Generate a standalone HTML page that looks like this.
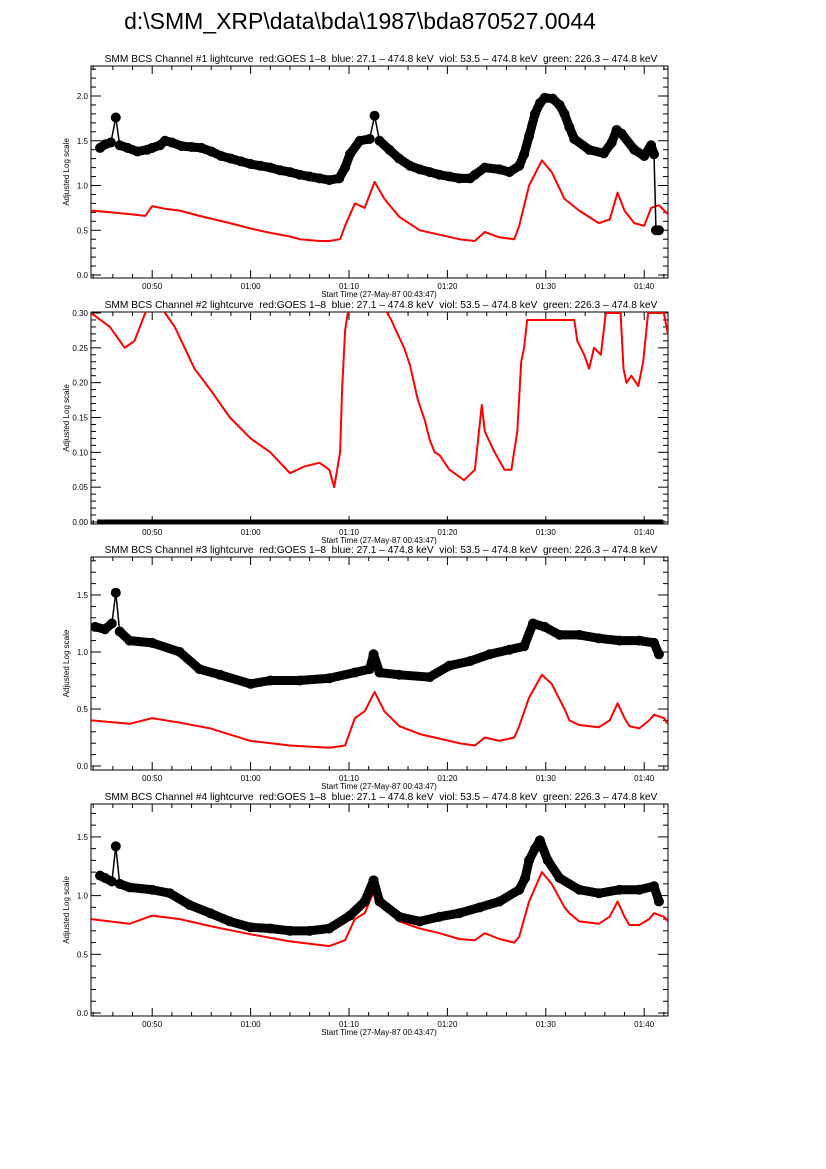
<!DOCTYPE html>
<html><head><meta charset="utf-8"><style>
html,body{margin:0;padding:0;background:#fff;}
svg{display:block;font-family:"Liberation Sans",sans-serif;}
</style></head><body>
<svg id="chart" width="826" height="1169" viewBox="0 0 826 1169" xmlns="http://www.w3.org/2000/svg">
<rect x="0" y="0" width="826" height="1169" fill="#fff"/>
<text x="360" y="29" font-size="23" text-anchor="middle" fill="#000">d:\SMM_XRP\data\bda\1987\bda870527.0044</text>
</svg>
<script>
// time in minutes after 00:00 on 27-May-87
const tStart = 43.78, tEnd = 102.42;
const xTickMinutes = [50, 60, 70, 80, 90, 100];
const xTickLabels = ["00:50", "01:00", "01:10", "01:20", "01:30", "01:40"];

// Panel 1
const p1RedT = [43.8,45.7,47.7,49.3,50.0,51.3,52.8,54.8,57.9,60.0,62.0,64.0,65.0,67.0,68.0,69.1,69.6,70.6,71.6,72.6,73.6,75.1,77.2,79.2,81.2,82.8,83.8,85.3,86.8,87.3,88.3,89.6,90.6,91.9,93.4,95.4,96.5,97.3,98.0,99.0,100.0,100.7,101.5,102.4];
const p1RedV = [0.72,0.70,0.68,0.66,0.77,0.74,0.72,0.66,0.58,0.52,0.47,0.43,0.40,0.38,0.38,0.40,0.55,0.80,0.75,1.04,0.85,0.65,0.50,0.45,0.40,0.38,0.48,0.42,0.40,0.55,1.00,1.28,1.15,0.85,0.72,0.58,0.62,0.92,0.72,0.58,0.55,0.75,0.78,0.68];
const p1BlkT = [44.7,45.2,45.8,46.3,46.7,47.5,48.5,49.5,50.0,50.8,51.3,52.0,53.0,54.0,55.0,56.0,57.0,58.0,59.0,60.0,61.0,62.0,63.0,64.0,65.0,66.0,67.0,68.0,69.0,69.6,70.1,71.1,72.1,72.6,73.1,74.1,75.1,76.2,77.2,78.2,79.2,80.2,81.2,82.3,82.8,83.8,85.3,86.3,87.3,87.8,88.3,88.9,89.4,89.9,90.7,91.4,91.9,92.4,92.9,94.4,95.9,96.7,97.2,97.7,99.0,100.0,100.7,101.0,101.2,101.5];
const p1BlkV = [1.42,1.46,1.48,1.76,1.45,1.42,1.38,1.40,1.42,1.45,1.50,1.48,1.44,1.43,1.42,1.38,1.33,1.30,1.27,1.24,1.22,1.20,1.17,1.15,1.12,1.10,1.08,1.06,1.08,1.20,1.35,1.50,1.52,1.78,1.50,1.40,1.30,1.22,1.18,1.15,1.12,1.10,1.08,1.08,1.12,1.20,1.18,1.15,1.22,1.35,1.55,1.80,1.92,1.98,1.97,1.90,1.80,1.65,1.52,1.40,1.36,1.48,1.62,1.58,1.40,1.33,1.45,1.35,0.50,0.50];

// Panel 2
const p2RedT = [43.8,45.7,47.2,48.2,49.3,50.3,51.3,52.3,54.3,55.9,57.9,60.0,62.0,64.0,65.5,67.0,68.0,68.5,69.1,69.3,69.6,70.1,70.3,73.1,74.3,74.6,75.6,76.2,77.0,77.7,78.2,78.7,79.2,80.2,81.7,82.8,83.5,83.8,84.8,85.8,86.5,87.1,87.5,87.8,88.1,92.9,93.2,93.9,94.4,94.9,95.6,96.1,97.6,97.9,98.2,98.7,99.4,99.9,100.4,102.0,102.4];
const p2RedV = [0.30,0.28,0.25,0.26,0.30,0.32,0.30,0.28,0.22,0.19,0.15,0.12,0.10,0.07,0.08,0.085,0.075,0.05,0.10,0.19,0.275,0.32,0.32,0.32,0.29,0.28,0.25,0.225,0.175,0.146,0.118,0.10,0.096,0.075,0.06,0.075,0.168,0.13,0.10,0.075,0.075,0.13,0.23,0.25,0.29,0.29,0.26,0.24,0.22,0.25,0.24,0.30,0.30,0.22,0.20,0.21,0.195,0.23,0.30,0.30,0.27];
const p2BlkT = [44.4,101.9];
const p2BlkV = [0.0,0.0];

// Panel 3
const p3RedT = [43.8,47.7,50.0,52.8,55.9,60.0,64.0,68.0,69.6,70.6,71.6,72.6,73.6,75.1,77.2,79.2,81.2,82.8,83.8,85.3,86.8,87.3,88.3,89.6,90.6,91.9,92.4,93.4,95.4,96.5,97.3,98.0,98.5,99.5,100.5,101.0,102.0,102.4];
const p3RedV = [0.40,0.37,0.42,0.38,0.33,0.22,0.18,0.16,0.18,0.42,0.48,0.65,0.48,0.35,0.28,0.24,0.20,0.18,0.25,0.22,0.25,0.35,0.60,0.80,0.72,0.50,0.40,0.36,0.34,0.40,0.55,0.42,0.35,0.33,0.40,0.45,0.42,0.37];
const p3BlkT = [44.2,45.2,45.9,46.3,46.7,47.7,50.0,52.8,54.8,56.9,60.0,62.0,65.0,68.0,70.6,72.1,72.5,73.1,75.1,78.2,80.2,82.3,84.3,86.3,87.8,88.7,89.9,91.4,93.4,95.4,97.5,99.5,101.0,101.5];
const p3BlkV = [1.22,1.20,1.25,1.52,1.18,1.10,1.08,1.00,0.85,0.80,0.72,0.75,0.75,0.77,0.82,0.85,0.98,0.82,0.80,0.78,0.88,0.92,0.98,1.02,1.05,1.25,1.22,1.15,1.15,1.12,1.10,1.10,1.08,0.98];

// Panel 4
const p4RedT = [43.8,47.7,50.0,52.8,55.9,60.0,64.0,68.0,69.6,70.6,71.6,72.6,73.6,75.1,77.2,79.2,81.2,82.8,83.8,85.3,86.8,87.3,88.3,89.6,90.6,91.9,92.4,93.4,95.4,96.5,97.3,98.0,98.5,99.5,100.5,101.0,102.0,102.4];
const p4RedV = [0.80,0.76,0.83,0.80,0.74,0.67,0.61,0.57,0.62,0.80,0.85,1.05,0.90,0.78,0.72,0.68,0.63,0.62,0.68,0.63,0.60,0.65,0.95,1.20,1.10,0.90,0.85,0.78,0.76,0.82,0.95,0.82,0.75,0.75,0.80,0.85,0.82,0.78];
const p4BlkT = [44.7,45.2,45.9,46.3,46.7,47.7,50.0,51.8,53.8,55.9,57.9,60.0,62.0,64.0,66.0,68.0,70.1,71.6,72.5,73.1,75.1,77.2,79.2,81.2,83.3,85.3,87.3,87.9,88.3,88.9,89.4,90.2,91.4,93.4,95.4,97.5,99.5,101.0,101.5];
const p4BlkV = [1.17,1.15,1.12,1.42,1.10,1.07,1.05,1.02,0.92,0.85,0.78,0.73,0.72,0.70,0.70,0.72,0.83,0.95,1.13,0.95,0.82,0.78,0.82,0.85,0.90,0.95,1.05,1.15,1.30,1.40,1.47,1.30,1.15,1.05,1.02,1.05,1.05,1.08,0.95];

const NS = "http://www.w3.org/2000/svg";
const svg = document.getElementById("chart");
function mk(tag, attrs, parent){const e=document.createElementNS(NS,tag);for(const k in attrs)e.setAttribute(k,attrs[k]);(parent||svg).appendChild(e);return e;}

const X0 = 91, X1 = 668;
function xScale(t){return X0 + (t - tStart) / (tEnd - tStart) * (X1 - X0);}

const panels = [
 {n:1, top:66, bot:278, y0:275, yPer:89.5, yMax:2.3, yStep:0.5, minor:0.1, dec:1, redT:p1RedT, redV:p1RedV, blkT:p1BlkT, blkV:p1BlkV},
 {n:2, top:312, bot:524, y0:522, yPer:696.7, yMax:0.30, yStep:0.05, minor:0.01, dec:2, redT:p2RedT, redV:p2RedV, blkT:p2BlkT, blkV:p2BlkV},
 {n:3, top:557, bot:770, y0:766, yPer:114, yMax:1.75, yStep:0.5, minor:0.1, dec:1, redT:p3RedT, redV:p3RedV, blkT:p3BlkT, blkV:p3BlkV},
 {n:4, top:804, bot:1016, y0:1013, yPer:117.4, yMax:1.75, yStep:0.5, minor:0.1, dec:1, redT:p4RedT, redV:p4RedV, blkT:p4BlkT, blkV:p4BlkV}
];

panels.forEach(p=>{
 const g = mk("g",{});
 
 
 const yScale = v => p.y0 - v * p.yPer;
 const title = mk("text",{x:381, y:p.top-4, "font-size":"10.2", "text-anchor":"middle"}, g);
 title.textContent = "SMM BCS Channel #"+p.n+" lightcurve  red:GOES 1\u20138  blue: 27.1 \u2013 474.8 keV  viol: 53.5 \u2013 474.8 keV  green: 226.3 \u2013 474.8 keV";
 
 
 title.style.whiteSpace = 'pre';
 const cid = "clip"+p.n;
 const cp = mk("clipPath",{id:cid}, g);
 mk("rect",{x:X0,y:p.top,width:X1-X0,height:p.bot-p.top}, cp);
 const box = mk("rect",{x:X0,y:p.top,width:X1-X0,height:p.bot-p.top,fill:"none",stroke:"#000","stroke-width":"1"}, g);
 
 
 for(let m=44; m<=102; m+=2){
  const x = xScale(m); const major = (m%10===0); const L = major?8:4;
  mk("line",{x1:x,x2:x,y1:p.bot,y2:p.bot-L,stroke:"#000","stroke-width":"1"}, g);
  mk("line",{x1:x,x2:x,y1:p.top,y2:p.top+L,stroke:"#000","stroke-width":"1"}, g);
 }
 xTickMinutes.forEach((m,i)=>{
  const t = mk("text",{x:xScale(m), y:p.bot+11, "font-size":"8", "text-anchor":"middle"}, g);
  t.textContent = xTickLabels[i];
  
  
 });
 const xt = mk("text",{x:379, y:p.bot+19, "font-size":"8", "text-anchor":"middle"}, g);
 xt.textContent = "Start Time (27-May-87 00:43:47)";
 
 
 const nMin = Math.round(p.yMax / p.minor);
 const per = Math.round(p.yStep / p.minor);
 for(let i=0;i<=nMin;i++){
  const v = i*p.minor; const y = yScale(v); if(y < p.top) break;
  const major = (i%per===0); const L = major?10:5;
  mk("line",{x1:X0,x2:X0+L,y1:y,y2:y,stroke:"#000","stroke-width":"1"}, g);
  mk("line",{x1:X1,x2:X1-L,y1:y,y2:y,stroke:"#000","stroke-width":"1"}, g);
  if(major){
   const t = mk("text",{x:X0-3, y:y+3, "font-size":"8", "text-anchor":"end"}, g);
   t.textContent = v.toFixed(p.dec);
   
   
  }
 }
 const yc = (p.top+p.bot)/2;
 const yt = mk("text",{x:0,y:0,"font-size":"8","text-anchor":"middle",transform:"translate(69,"+yc+") rotate(-90)"}, g);
 yt.textContent = "Adjusted Log scale";
 
 
 const dg = mk("g",{"clip-path":"url(#"+cid+")"}, g);
 const redPts = p.redT.map((t,i)=>xScale(t).toFixed(1)+","+yScale(p.redV[i]).toFixed(1)).join(" ");
 const red = mk("polyline",{points:redPts,fill:"none",stroke:"#ff0000","stroke-width":"2","stroke-linejoin":"round"}, dg);
 
 
 const blkPts = p.blkT.map((t,i)=>xScale(t).toFixed(1)+","+yScale(p.blkV[i]).toFixed(1)).join(" ");
 if(p.n===2){
  const bl = mk("polyline",{points:blkPts,fill:"none",stroke:"#000","stroke-width":"5"}, dg);
  
  
 } else {
  const thin = mk("polyline",{points:blkPts,fill:"none",stroke:"#000","stroke-width":"1.5"}, dg);
  
  
  const n = p.blkT.length;
  const V = p.blkV;
  const isSpike = i => i>0 && i<n-1 && (V[i]-V[i-1])>0.18 && (V[i]-V[i+1])>0.18;
  for(let i=0;i<n-1;i++){
   if(isSpike(i) || isSpike(i+1)) continue;
   if(Math.abs(V[i+1]-V[i]) > 0.5) continue;
   const seg = mk("line",{x1:xScale(p.blkT[i]),y1:yScale(V[i]),x2:xScale(p.blkT[i+1]),y2:yScale(V[i+1]),stroke:"#000","stroke-width":"9","stroke-linecap":"round"}, dg);
   
   
  }
  p.blkT.forEach((t,i)=>{
   const c = mk("circle",{cx:xScale(t),cy:yScale(V[i]),r:"5",fill:"#000"}, dg);
   
   
  });
 }
});
</script>
</body></html>
